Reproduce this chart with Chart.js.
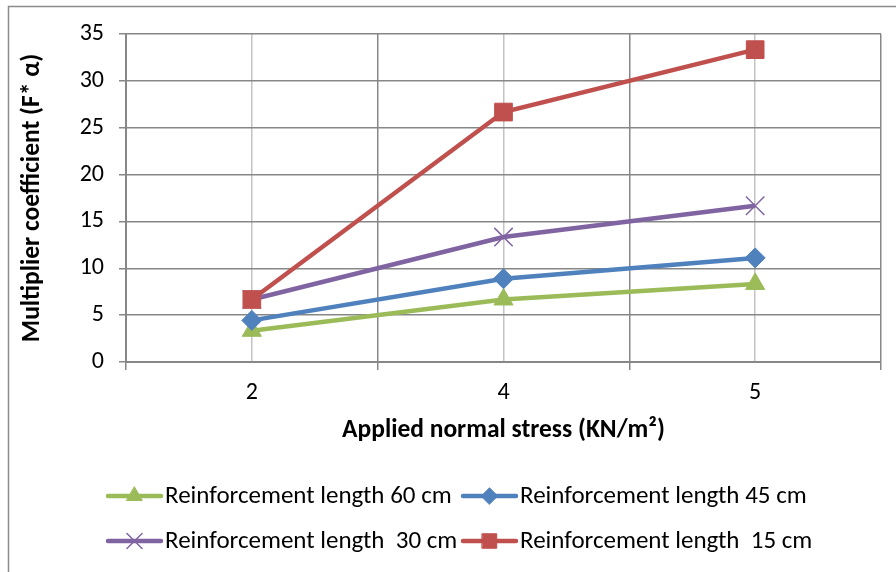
<!DOCTYPE html>
<html>
<head>
<meta charset="utf-8">
<script src="https://cdn.jsdelivr.net/npm/chart.js@4/dist/chart.umd.min.js"></script>
<style>
  html, body { margin: 0; padding: 0; background: #fff; overflow: hidden; }
</style>
</head>
<body>
<canvas id="grafico_coeficiente" width="896" height="572"></canvas>
<script>
// applied normal stress (KN/m2) on the x axis
const stressLabels = ['2', '4', '5'];

// multiplier coefficient F* alpha for each reinforcement length
const length60 = [3.33, 6.67, 8.33];
const length45 = [4.44, 8.89, 11.11];
const length30 = [6.67, 13.33, 16.67];
const length15 = [6.67, 26.67, 33.33];

const yTicks = [0, 5, 10, 15, 20, 25, 30, 35];

Chart.defaults.font.family = 'Carlito, Calibri, Lato, sans-serif';
Chart.defaults.color = '#000';

const darkGrid = '#878787';
const lightGrid = '#c3c3c3';

// outer frame of the chart box
const framePlugin = {
  id: 'frame',
  beforeDraw(chart) {
    const ctx = chart.ctx;
    ctx.save();
    ctx.strokeStyle = '#8c8c8c';
    ctx.lineWidth = 1.5;
    ctx.strokeRect(8.5, 6.5, 920, 620);
    ctx.restore();
  }
};

// legend in two columns under the axis title
const legendPlugin = {
  id: 'twoColumnLegend',
  afterDraw(chart) {
    const ctx = chart.ctx;
    const cols = [108, 463];
    const rows = [496, 541];
    chart.data.datasets.forEach((ds, i) => {
      const x = cols[i % 2];
      const y = rows[Math.floor(i / 2)];
      ctx.save();
      ctx.strokeStyle = ds.borderColor;
      ctx.lineWidth = 4.5;
      ctx.lineCap = 'round';
      ctx.beginPath();
      ctx.moveTo(x, y);
      ctx.lineTo(x + 53, y);
      ctx.stroke();
      ctx.fillStyle = ds.backgroundColor;
      ctx.lineWidth = ds.pointBorderWidth;
      Chart.helpers.drawPoint(ctx, {
        pointStyle: ds.pointStyle,
        radius: ds.pointRadius * 0.82,
        borderWidth: ds.pointBorderWidth,
        rotation: 0
      }, x + 26.5, y);
      ctx.fillStyle = '#000';
      ctx.font = '25px ' + Chart.defaults.font.family;
      ctx.textBaseline = 'middle';
      ctx.fillText(ds.label, x + 57, y + 1);
      ctx.restore();
    });
  }
};

const graficoCoeficiente = document.getElementById('grafico_coeficiente');

new Chart(graficoCoeficiente, {
  type: 'line',
  data: {
    labels: stressLabels,
    datasets: [{
      label: 'Reinforcement length 60 cm',
      data: length60,
      borderColor: '#9BBB59',
      backgroundColor: '#9BBB59',
      borderWidth: 4.5,
      pointStyle: 'triangle',
      pointRadius: 11,
      pointBorderWidth: 1,
      order: 4
    }, {
      label: 'Reinforcement length 45 cm',
      data: length45,
      borderColor: '#4F81BD',
      backgroundColor: '#4F81BD',
      borderWidth: 4.5,
      pointStyle: 'rectRot',
      pointRadius: 10,
      pointBorderWidth: 1,
      order: 3
    }, {
      label: 'Reinforcement length  30 cm',
      data: length30,
      borderColor: '#8064A2',
      backgroundColor: '#8064A2',
      borderWidth: 4.5,
      pointStyle: 'crossRot',
      pointRadius: 13,
      pointBorderWidth: 1.5,
      order: 2
    }, {
      label: 'Reinforcement length  15 cm',
      data: length15,
      borderColor: '#C0504D',
      backgroundColor: '#C0504D',
      borderWidth: 4.5,
      pointStyle: 'rect',
      pointRadius: 12.5,
      pointBorderWidth: 1,
      order: 1
    }]
  },
  options: {
    responsive: false,
    animation: false,
    layout: {
      padding: { left: 0, top: 34, right: 15, bottom: 110 }
    },
    plugins: {
      legend: { display: false },
      tooltip: { enabled: false }
    },
    elements: {
      line: { tension: 0 }
    },
    scales: {
      x: {
        offset: true,
        grid: { offset: true, color: darkGrid, lineWidth: 1.5, tickLength: 8 },
        border: { color: darkGrid, width: 2 },
        ticks: { font: { size: 24 }, padding: 9 },
        title: {
          display: true,
          text: 'Applied normal stress (KN/m²)',
          font: { size: 25.5, weight: 'bold' },
          padding: { top: 0, bottom: 16.5 }
        },
        afterFit: (scale) => { scale.height = 100; }
      },
      // centre lines through each category
      x2: {
        position: 'top',
        offset: true,
        grid: { offset: false, color: lightGrid, lineWidth: 1.5, drawTicks: false },
        border: { display: false },
        ticks: { display: false },
        afterFit: (scale) => { scale.height = 0; }
      },
      y: {
        min: 0,
        max: 35,
        afterBuildTicks: (scale) => { scale.ticks = yTicks.map(v => ({ value: v })); },
        grid: { color: darkGrid, lineWidth: 1.5, tickLength: 7 },
        border: { color: darkGrid, width: 2 },
        ticks: { font: { size: 24 }, padding: 15 },
        title: {
          display: true,
          text: 'Multiplier coefficient (F* α)',
          font: { size: 25.5, weight: 'bold' },
          padding: { top: 17.5, bottom: 0 }
        },
        afterFit: (scale) => { scale.width = 126; }
      }
    }
  },
  plugins: [framePlugin, legendPlugin]
});
</script>
</body>
</html>
